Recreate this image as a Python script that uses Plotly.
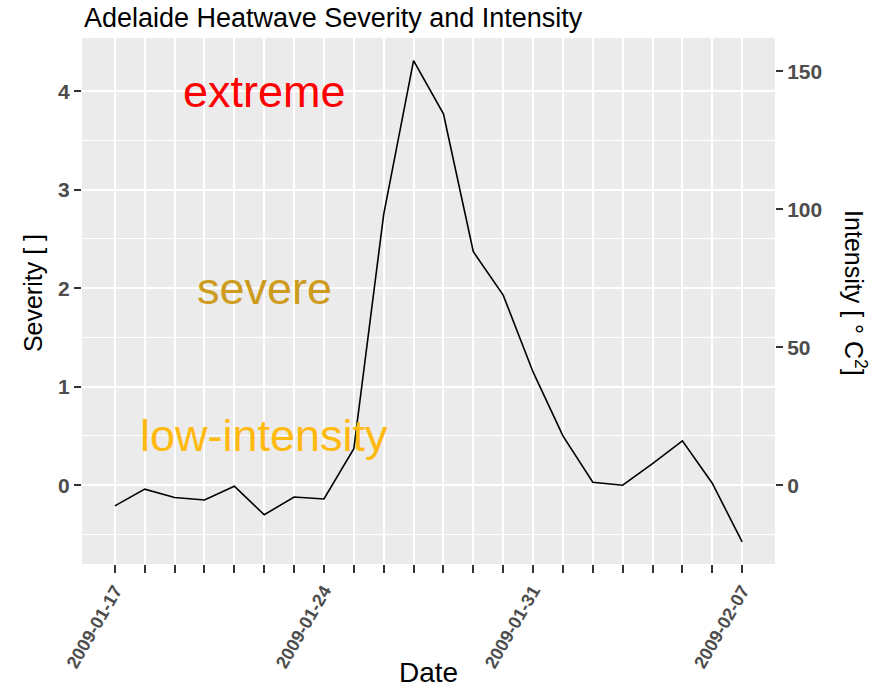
import plotly.graph_objects as go
import pandas as pd

# ---- data ----
dates = pd.date_range("2009-01-17", "2009-02-07", freq="D").strftime("%Y-%m-%d").tolist()
severity = [-0.21, -0.04, -0.125, -0.15, -0.01, -0.30, -0.12, -0.14, 0.37, 2.75,
            4.31, 3.77, 2.37, 1.93, 1.15, 0.50, 0.03, 0.00, 0.22, 0.45, 0.02, -0.575]
label_dates = ["2009-01-17", "2009-01-24", "2009-01-31", "2009-02-07"]
threshold_levels = [0, 1, 3]
threshold_colors = ["#FFC125", "#FF8C42", "#FF0000"]
category_names = ["extreme", "severe", "low-intensity"]
category_y = [4, 2, 0.5]
category_colors = ["#FF0000", "#CD9B1D", "#FFB90F"]
category_x = "2009-01-22"
sev_ticks = [0, 1, 2, 3, 4]
int_ticks = [0, 50, 100, 150]
scale = 35.7  # intensity per severity unit

sev_range = [-0.80, 4.54]
int_range = [sev_range[0] * scale, sev_range[1] * scale]
x_range = ["2009-01-15 21:36", "2009-02-08 02:24"]

FONT = "Liberation Sans, Arial, sans-serif"
TICKC = "#4D4D4D"

fig = go.Figure()
fig.add_trace(go.Scatter(x=dates, y=severity, mode="lines",
                         line=dict(color="black", width=1.6), showlegend=False,
                         hoverinfo="skip"))
# invisible trace to activate secondary axis
fig.add_trace(go.Scatter(x=[dates[0]], y=[0], yaxis="y2", mode="markers",
                         marker=dict(opacity=0), showlegend=False, hoverinfo="skip"))

for lvl, col in zip(threshold_levels, threshold_colors):
    fig.add_shape(type="line", xref="paper", x0=0, x1=1, yref="y", y0=lvl, y1=lvl,
                  line=dict(color=col, width=1.5), layer="between")

for name, yy, col in zip(category_names, category_y, category_colors):
    fig.add_annotation(x=category_x, y=yy, xref="x", yref="y", text=name,
                       showarrow=False, font=dict(family=FONT, size=45, color=col),
                       xanchor="center", yanchor="middle")

ticktext = [d if d in label_dates else "" for d in dates]

fig.update_layout(
    width=891, height=690,
    margin=dict(l=82, r=116, t=38, b=126, autoexpand=False),
    paper_bgcolor="white", plot_bgcolor="#EBEBEB",
    font=dict(family=FONT),
    xaxis=dict(range=x_range, tickmode="array", tickvals=dates, ticktext=ticktext,
               tickangle=-60, ticks="outside", ticklen=8, tickwidth=1.5, tickcolor="#333333",
               tickfont=dict(family=FONT, size=18, color=TICKC, weight="bold"),
               showgrid=True, gridcolor="white", gridwidth=1.6, zeroline=False,
               showline=False, automargin=False),
    yaxis=dict(range=sev_range, tickmode="array", tickvals=sev_ticks,
               ticks="outside", ticklen=7, tickwidth=1.5, tickcolor="#333333",
               tickfont=dict(family=FONT, size=21, color=TICKC, weight="bold"),
               showgrid=True, gridcolor="white", gridwidth=1.6, zeroline=False,
               automargin=False,
               minor=dict(tickvals=[-0.5, 0.5, 1.5, 2.5, 3.5], showgrid=True,
                          gridcolor="white", gridwidth=0.8, ticks="")),
    yaxis2=dict(range=int_range, overlaying="y", side="right", tickmode="array",
                tickvals=int_ticks, ticks="outside", ticklen=7, tickwidth=1.5,
                tickcolor="#333333", automargin=False,
                tickfont=dict(family=FONT, size=21, color=TICKC, weight="bold"),
                showgrid=False, zeroline=False),
)

# titles
fig.add_annotation(xref="paper", yref="paper", x=0, y=1, xanchor="left", yanchor="middle",
                   yshift=20, xshift=0, text="Adelaide Heatwave Severity and Intensity",
                   showarrow=False, font=dict(family=FONT, size=27, color="black"))
fig.add_annotation(xref="paper", yref="y", x=0, y=1.95, xshift=-49, textangle=-90,
                   xanchor="center", yanchor="middle",
                   text="Severity [ ]", showarrow=False,
                   font=dict(family=FONT, size=25, color="black"))
fig.add_annotation(xref="paper", yref="y", x=1, y=1.95, xshift=80, textangle=90,
                   xanchor="center", yanchor="middle",
                   text="Intensity [ ° C<sup>2</sup>]", showarrow=False,
                   font=dict(family=FONT, size=25, color="black"))
fig.add_annotation(xref="paper", yref="paper", x=0.5, y=0, yshift=-108,
                   xanchor="center", yanchor="middle",
                   text="Date", showarrow=False,
                   font=dict(family=FONT, size=28, color="black"))

fig.write_html("out.html", config={"displayModeBar": False},
               post_script="document.body.style.margin='0';")
